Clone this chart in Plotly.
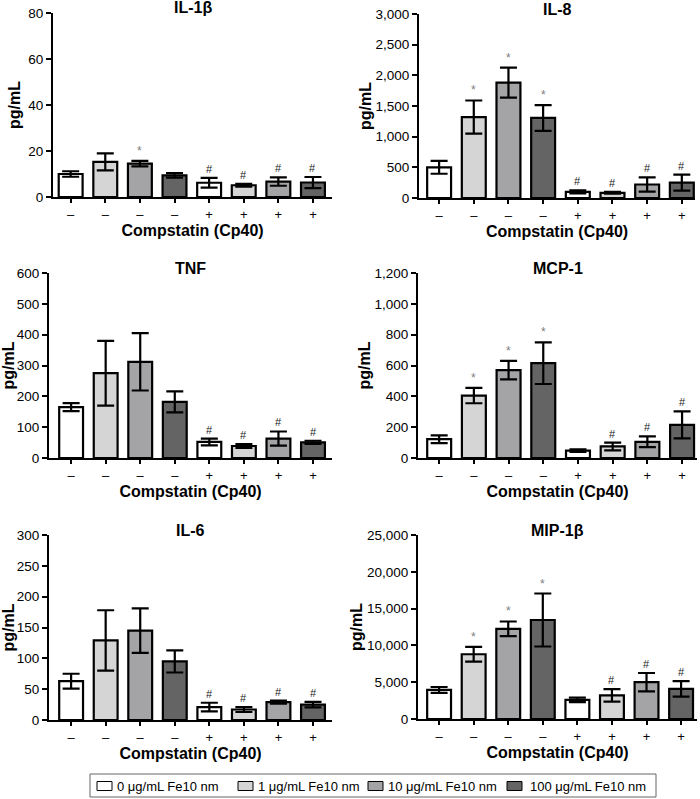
import plotly.graph_objects as go

# ---------------- data ----------------
cp40_labels = ["–", "–", "–", "–", "+", "+", "+", "+"]
groups = ["0 μg/mL Fe10 nm", "1 μg/mL Fe10 nm", "10 μg/mL Fe10 nm", "100 μg/mL Fe10 nm"]
group_colors = ["#ffffff", "#d5d5d5", "#a4a4a7", "#646464"]

panel_titles = ["IL-1β", "IL-8", "TNF", "MCP-1", "IL-6", "MIP-1β"]

il1b_mean = [10.0, 15.3, 14.5, 9.4, 6.2, 5.1, 6.7, 6.3]
il1b_err = [1.2, 3.7, 1.2, 1.0, 2.1, 0.6, 1.8, 2.4]
il1b_sig = ["", "", "*", "", "#", "#", "#", "#"]

il8_mean = [500, 1320, 1880, 1305, 100, 85, 220, 250]
il8_err = [105, 270, 245, 210, 25, 15, 115, 130]
il8_sig = ["", "*", "*", "*", "#", "#", "#", "#"]

tnf_mean = [165, 275, 312, 182, 52, 39, 63, 51]
tnf_err = [13, 105, 93, 34, 11, 6, 23, 5]
tnf_sig = ["", "", "", "", "#", "#", "#", "#"]

mcp1_mean = [122, 405, 570, 615, 48, 75, 105, 215]
mcp1_err = [25, 50, 60, 135, 8, 25, 35, 88]
mcp1_sig = ["", "*", "*", "*", "", "#", "#", "#"]

il6_mean = [63, 129, 145, 95, 21, 17, 29, 25]
il6_err = [12, 49, 36, 18, 7, 4, 2.5, 4.5]
il6_sig = ["", "", "", "", "#", "#", "#", "#"]

mip1b_mean = [3950, 8800, 12250, 13450, 2600, 3200, 5000, 4100]
mip1b_err = [400, 1000, 1000, 3600, 300, 850, 1250, 1050]
mip1b_sig = ["", "*", "*", "*", "", "#", "#", "#"]

y_max = [80, 3000, 600, 1200, 300, 25000]
y_dtick = [20, 500, 100, 200, 50, 5000]

means = [il1b_mean, il8_mean, tnf_mean, mcp1_mean, il6_mean, mip1b_mean]
errs = [il1b_err, il8_err, tnf_err, mcp1_err, il6_err, mip1b_err]
sigs = [il1b_sig, il8_sig, tnf_sig, mcp1_sig, il6_sig, mip1b_sig]

# ---------------- layout geometry (pixels) ----------------
W, H = 700, 799
panel_px = [(53, 332, 13, 197), (419, 695, 14, 198),
            (49, 332, 273, 458), (418, 697, 273, 458),
            (49, 332, 535, 720), (418, 697, 535, 719)]
x_ranges = [[-0.51, 7.55], [-0.58, 7.38], [-0.64, 7.55],
            [-0.61, 7.43], [-0.64, 7.55], [-0.61, 7.46]]
y_title_standoff = [4, 0, 0, 0, 0, 0]
# legend box (px), entry swatch and label left edges (px)
legend_box = (90, 656, 774, 797)
legend_sym_x = [97, 238, 368, 507]
legend_txt_x = [115, 256, 386, 528]
legend_mid_y = 786

FONT = "Arial, Liberation Sans, sans-serif"
fig = go.Figure()
annotations = []
shapes = []

for p in range(6):
    xa = "x" if p == 0 else f"x{p+1}"
    ya = "y" if p == 0 else f"y{p+1}"
    for g in range(4):
        idx = [g, g + 4]
        fig.add_trace(go.Bar(
            x=idx,
            y=[means[p][i] for i in idx],
            error_y=dict(type="data", array=[errs[p][i] for i in idx],
                         color="black", thickness=2.2, width=8.5),
            marker=dict(color=group_colors[g], line=dict(color="black", width=2.2)),
            width=0.69,
            name=groups[g],
            legendgroup=groups[g],
            showlegend=False,
            xaxis=xa, yaxis=ya,
        ))
    for i in range(8):
        s = sigs[p][i]
        if s:
            annotations.append(dict(
                x=i, y=means[p][i] + errs[p][i], xref=xa, yref=ya,
                text=s, showarrow=False, yanchor="bottom", yshift=1,
                font=dict(family=FONT, size=12 if s == "*" else 11,
                          color="#808080" if s == "*" else "#222222"),
            ))
    annotations.append(dict(
        x=0.5, y=1, xref=f"{xa} domain", yref=f"{ya} domain",
        text=f"<b>{panel_titles[p]}</b>", showarrow=False,
        yanchor="middle", yshift=5,
        font=dict(family=FONT, size=16, color="black"),
    ))

# ---- legend (box, swatches, labels) ----
bx0, bx1, by0, by1 = legend_box
shapes.append(dict(type="rect", xref="paper", yref="paper",
                   x0=bx0 / W, x1=bx1 / W, y0=1 - by1 / H, y1=1 - by0 / H,
                   line=dict(color="#666666", width=1), fillcolor="white"))
for g in range(4):
    sx = legend_sym_x[g]
    shapes.append(dict(type="rect", xref="paper", yref="paper",
                       x0=sx / W, x1=(sx + 15) / W,
                       y0=1 - (legend_mid_y + 4.5) / H, y1=1 - (legend_mid_y - 4.5) / H,
                       line=dict(color="black", width=1), fillcolor=group_colors[g]))
    annotations.append(dict(
        x=legend_txt_x[g] / W, y=1 - legend_mid_y / H, xref="paper", yref="paper",
        text=groups[g], showarrow=False, xanchor="left", yanchor="middle",
        font=dict(family=FONT, size=13, color="black"),
    ))

layout = dict(
    width=W, height=H,
    margin=dict(l=0, r=0, t=0, b=0, autoexpand=False),
    paper_bgcolor="white", plot_bgcolor="white",
    barmode="overlay",
    font=dict(family=FONT, color="black"),
    annotations=annotations,
    shapes=shapes,
    showlegend=False,
)

for p in range(6):
    x0, x1, yt, yb = panel_px[p]
    xk = "xaxis" if p == 0 else f"xaxis{p+1}"
    yk = "yaxis" if p == 0 else f"yaxis{p+1}"
    ya = "y" if p == 0 else f"y{p+1}"
    xa = "x" if p == 0 else f"x{p+1}"
    layout[xk] = dict(
        domain=[x0 / W, min(x1 / W, 1)], anchor=ya, range=x_ranges[p],
        tickmode="array", tickvals=list(range(8)), ticktext=cp40_labels,
        showline=True, linecolor="black", linewidth=2,
        ticks="outside", ticklen=4, tickwidth=1.5, tickcolor="black",
        showgrid=False, zeroline=False, fixedrange=True,
        tickfont=dict(family=FONT, size=13, color="black"),
        title=dict(text="<b>Compstatin (Cp40)</b>", standoff=2,
                   font=dict(family=FONT, size=16, color="black")),
    )
    layout[yk] = dict(
        domain=[1 - yb / H, 1 - yt / H], anchor=xa, range=[0, y_max[p]],
        dtick=y_dtick[p], tick0=0, tickformat=",",
        showline=True, linecolor="black", linewidth=2,
        ticks="outside", ticklen=5, tickwidth=1.5, tickcolor="black",
        showgrid=False, zeroline=False, fixedrange=True,
        tickfont=dict(family=FONT, size=13.5, color="black"),
        title=dict(text="<b>pg/mL</b>", standoff=y_title_standoff[p],
                   font=dict(family=FONT, size=16, color="black")),
    )

fig.update_layout(**layout)
fig.write_html("out.html", config={"displayModeBar": False},
               post_script="document.body.style.margin='0';")
